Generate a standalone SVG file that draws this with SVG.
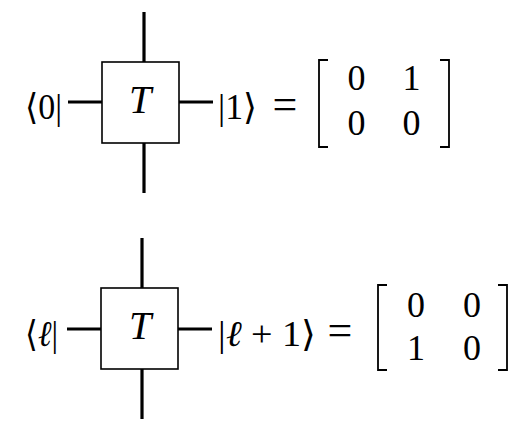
<svg xmlns="http://www.w3.org/2000/svg" width="521" height="436" viewBox="0 0 521 436">
<style>
.leg{stroke:#000;stroke-width:3.2;fill:none}
.box{stroke:#000;stroke-width:1.6;fill:#fff}
.br{stroke:#000;stroke-width:1.8;fill:none}
text{font-family:"Liberation Serif","DejaVu Serif",serif;font-size:36px;fill:#000}
.it{font-style:italic}
.t{font-size:40px}
.eq{font-size:44px}
</style>
<rect width="521" height="436" fill="#fff"/>
<g id="connectors">
<line class="leg" x1="144" y1="12" x2="144" y2="62"/>
<line class="leg" x1="144" y1="143" x2="144" y2="193"/>
<line class="leg" x1="68" y1="102" x2="102" y2="102"/>
<line class="leg" x1="179" y1="102" x2="213" y2="102"/>
<line class="leg" x1="142" y1="238" x2="142" y2="288"/>
<line class="leg" x1="142" y1="369" x2="142" y2="419"/>
<line class="leg" x1="67" y1="329" x2="101" y2="329"/>
<line class="leg" x1="178" y1="329" x2="212" y2="329"/>
</g>
<g id="nodeT1">
<rect class="box" x="102" y="62" width="77" height="81"/>
<text class="it t" x="140" y="113" text-anchor="middle">T</text>
</g>
<g id="bra0"><text x="25" y="119" textLength="37" lengthAdjust="spacingAndGlyphs">⟨0|</text></g>
<g id="ket1"><text x="218" y="119" textLength="39" lengthAdjust="spacingAndGlyphs">|1⟩</text></g>
<g id="eq1">
<text class="eq" x="285" y="119" text-anchor="middle">=</text>
<path class="br" d="M328,60 H319 V147 H328"/>
<path class="br" d="M440,60 H449 V147 H440"/>
<text x="356.5" y="90" text-anchor="middle">0</text>
<text x="411.5" y="90" text-anchor="middle">1</text>
<text x="356.5" y="135" text-anchor="middle">0</text>
<text x="411.5" y="135" text-anchor="middle">0</text>
</g>
<g id="nodeT2">
<rect class="box" x="101" y="288" width="77" height="81"/>
<text class="it t" x="140" y="339" text-anchor="middle">T</text>
</g>
<g id="braL"><text x="25" y="346" textLength="33" lengthAdjust="spacingAndGlyphs">⟨<tspan class="it">ℓ</tspan>|</text></g>
<g id="ketL1"><text x="218" y="346" textLength="98" lengthAdjust="spacingAndGlyphs">|<tspan class="it">ℓ</tspan> + 1⟩</text></g>
<g id="eq2">
<text class="eq" x="340" y="345" text-anchor="middle">=</text>
<path class="br" d="M387,285 H378 V370 H387"/>
<path class="br" d="M498,285 H507 V370 H498"/>
<text x="416" y="317" text-anchor="middle">0</text>
<text x="472" y="317" text-anchor="middle">0</text>
<text x="416" y="360" text-anchor="middle">1</text>
<text x="472" y="360" text-anchor="middle">0</text>
</g>
</svg>
